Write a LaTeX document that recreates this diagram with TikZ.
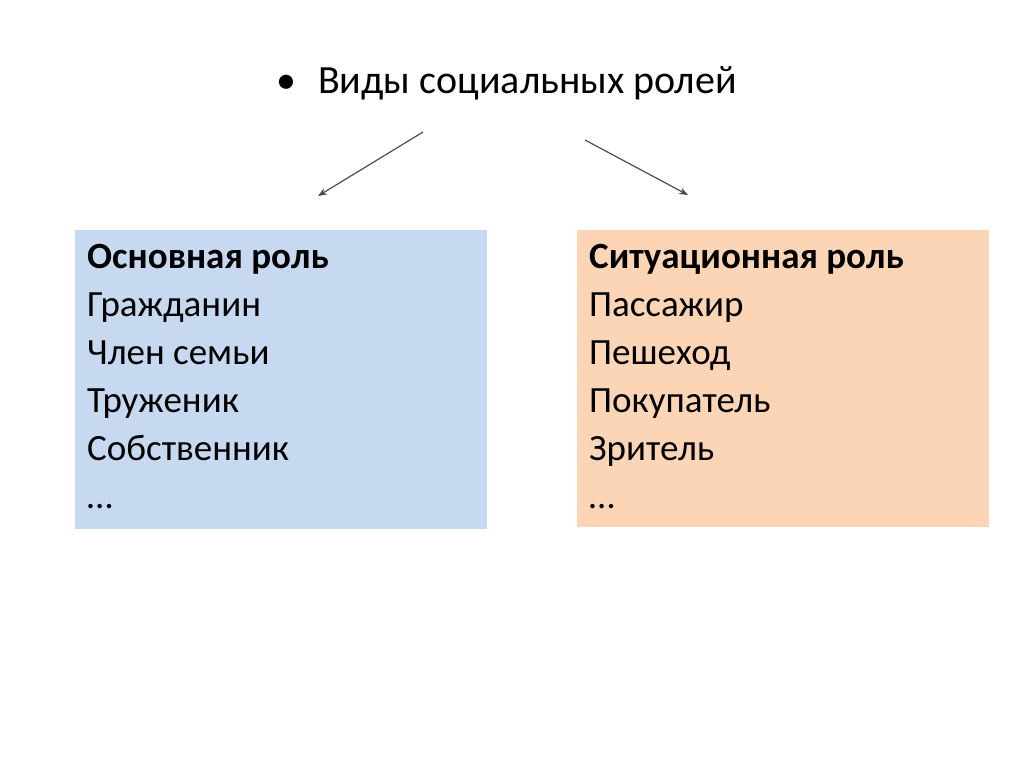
\documentclass[tikz,border=0pt]{standalone}
\usepackage{fontspec}
\setmainfont{Carlito}
\usetikzlibrary{positioning}
\definecolor{boxblue}{RGB}{198,217,240}
\definecolor{boxpeach}{RGB}{251,213,181}
\tikzset{
  rolebox/.style={anchor=north west,minimum width=412pt,minimum height=299pt,inner sep=0pt},
  roletext/.style={anchor=north west,align=left,inner sep=0pt,font=\fontsize{37}{48}\selectfont},
  rolearrow/.style={draw=black!70,line width=1.2pt,-{Stealth[length=9pt,width=7pt]}}
}
\usetikzlibrary{arrows.meta}
\begin{document}
\begin{tikzpicture}[x=1pt,y=-1pt]
      \useasboundingbox(0,0) rectangle (1024,767);
      \fill[white](0,0) rectangle (1024,767);
      \node[anchor=west,inner sep=0pt,font=\fontsize{40}{46}\selectfont] (title) at (276,83) {\textbullet\hspace{22pt}Виды социальных ролей};

      \node[rolebox,fill=boxblue] (main) at (75,230) {};
      \node[rolebox,fill=boxpeach,minimum height=297pt] (situ) at (577,230) {};
      \node[roletext] (maintext) at ([xshift=12pt,yshift=-14pt]main.north west)
        {\textbf{Основная роль}\\Гражданин\\Член семьи\\Труженик\\Собственник\\\dots};
      \node[roletext] (situtext) at ([xshift=12pt,yshift=-14pt]situ.north west)
        {\textbf{Ситуационная роль}\\Пассажир\\Пешеход\\Покупатель\\Зритель\\\dots};

      \coordinate (lstart) at (423,132);
      \coordinate (lend) at (318,196);
      \coordinate (rstart) at (585,140);
      \coordinate (rend) at (688,195);
      \draw[rolearrow](lstart) -- (lend);
      \draw[rolearrow](rstart) -- (rend);
\end{tikzpicture}
\end{document}
